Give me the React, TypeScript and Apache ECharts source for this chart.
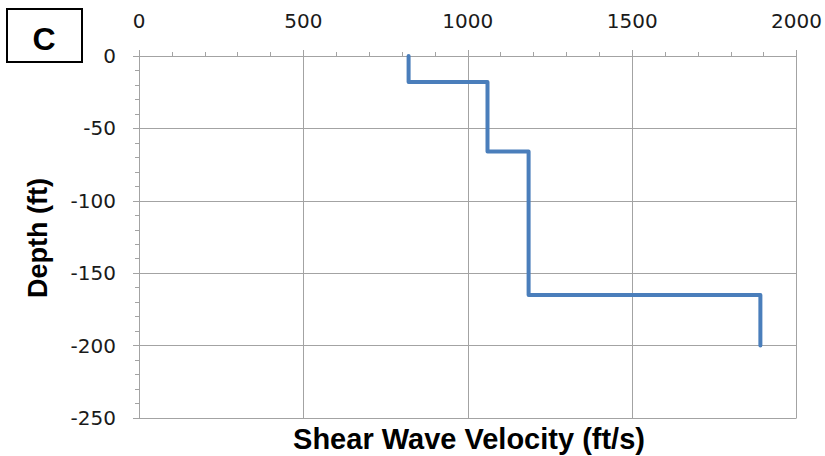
import React, { useEffect, useRef } from "react";
import * as echarts from "echarts";

// Shear wave velocity profile (ft/s) for each layer
const velocities = [820, 1060, 1185, 1890];
// Layer boundary depths (ft), top to bottom
const depths = [0, -18, -66, -165, -200];
const xTicks = [0, 500, 1000, 1500, 2000];
const yTicks = [0, -50, -100, -150, -200, -250];
const panelLabel = "C";
const xTitle = "Shear Wave Velocity (ft/s)";
const yTitle = "Depth (ft)";

export default function App() {
  const ref = useRef<HTMLDivElement>(null);
  useEffect(() => {
    if (!ref.current) return;
    const chart = echarts.init(ref.current, undefined, { renderer: "svg" });
    const pts: number[][] = [];
    velocities.forEach((v, i) => {
      pts.push([v, depths[i]]);
      pts.push([v, depths[i + 1]]);
    });
    const gridColor = "#a3a3a3";
    const labelStyle = {
      margin: 24,
      fontFamily: "DejaVu Sans",
      fontSize: 20,
      color: "#1a1a1a",
      formatter: (v: number) => String(v),
    };
    chart.setOption({
      animation: false,
      backgroundColor: "#ffffff",
      grid: { left: 139, top: 56, right: 25, bottom: 38, containLabel: false },
      xAxis: {
        type: "value",
        position: "top",
        min: xTicks[0],
        max: xTicks[xTicks.length - 1],
        interval: 500,
        axisLine: { show: true, lineStyle: { color: gridColor, width: 1 } },
        axisTick: { show: true, length: 6, lineStyle: { color: gridColor } },
        minorTick: { show: true, splitNumber: 5, length: 4, lineStyle: { color: gridColor } },
        splitLine: { show: true, lineStyle: { color: gridColor, width: 1 } },
        axisLabel: { ...labelStyle, margin: 25 },
      },
      yAxis: {
        type: "value",
        min: yTicks[yTicks.length - 1],
        max: yTicks[0],
        interval: 50,
        axisLine: { show: true, lineStyle: { color: gridColor, width: 1 } },
        axisTick: { show: true, length: 6, lineStyle: { color: gridColor } },
        minorTick: { show: true, splitNumber: 5, length: 4, lineStyle: { color: gridColor } },
        splitLine: { show: true, lineStyle: { color: gridColor, width: 1 } },
        axisLabel: { ...labelStyle, margin: 23 },
      },
      series: [
        {
          type: "line",
          data: pts,
          showSymbol: false,
          symbol: "none",
          lineStyle: { color: "#4A7EBB", width: 4, join: "round", cap: "round" },
        },
      ],
      graphic: [
        {
          type: "rect",
          shape: { x: 7, y: 9, width: 75, height: 53 },
          style: { fill: "#fff", stroke: "#000", lineWidth: 2 },
        },
        {
          type: "text",
          x: 44,
          y: 39,
          style: {
            text: panelLabel,
            font: "bold 32px 'Liberation Sans', Arial, sans-serif",
            fill: "#000",
            align: "center",
            verticalAlign: "middle",
          },
        },
        {
          type: "text",
          x: 469,
          y: 439,
          style: {
            text: xTitle,
            font: "bold 29px 'Liberation Sans', Arial, sans-serif",
            fill: "#000",
            align: "center",
            verticalAlign: "middle",
          },
        },
        {
          type: "text",
          x: 38,
          y: 238,
          rotation: Math.PI / 2,
          style: {
            text: yTitle,
            font: "bold 27px 'Liberation Sans', Arial, sans-serif",
            fill: "#000",
            align: "center",
            verticalAlign: "middle",
          },
        },
      ],
    });
    return () => chart.dispose();
  }, []);
  return (
    <div
      ref={ref}
      style={{ position: "fixed", left: 0, top: 0, width: 825, height: 456 }}
    />
  );
}
